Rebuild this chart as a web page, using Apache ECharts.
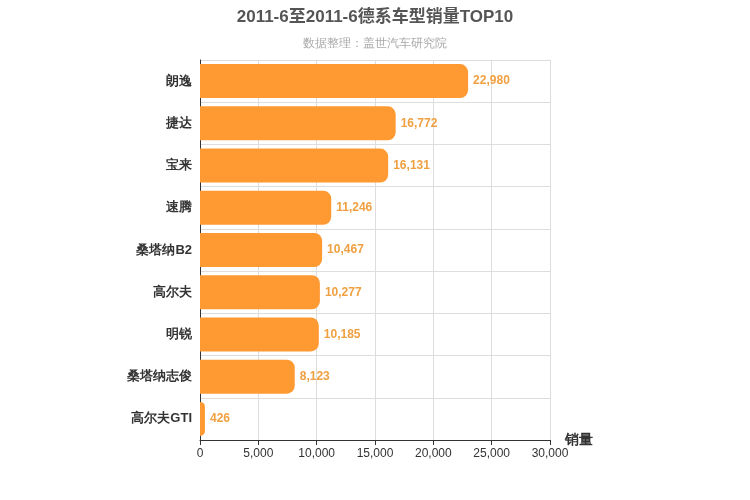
<!DOCTYPE html>
<html><head><meta charset="utf-8">
<script src="https://cdn.jsdelivr.net/npm/echarts@6/dist/echarts.min.js"></script>
<style>html,body{margin:0;padding:0;}#c{width:750px;height:500px;}</style>
</head><body><div id="c"></div>
<script>
const categories = ['朗逸','捷达','宝来','速腾','桑塔纳B2','高尔夫','明锐','桑塔纳志俊','高尔夫GTI'];
const sales = [22980,16772,16131,11246,10467,10277,10185,8123,426];
const xTicks = {min:0,max:30000,interval:5000};
const chart = echarts.init(document.getElementById('c'));
chart.setOption({
  animation:false,
  title:{text:'2011-6至2011-6德系车型销量TOP10',subtext:'数据整理：盖世汽车研究院',left:'center',top:4,
    textStyle:{fontSize:17,fontWeight:'bold',color:'#555',fontFamily:'Liberation Sans, Noto Sans CJK SC'},
    subtextStyle:{fontSize:12,color:'#aaa'},itemGap:12},
  grid:{left:200,right:200,top:60,bottom:60},
  xAxis:{type:'value',min:xTicks.min,max:xTicks.max,interval:xTicks.interval,
    name:'销量',nameLocation:'end',nameGap:15,
    nameTextStyle:{fontSize:14,fontWeight:'bold',color:'#333',verticalAlign:'middle',padding:[0,0,0,0]},
    axisLine:{show:true,lineStyle:{color:'#333'}},axisTick:{show:true},
    axisLabel:{color:'#333',fontSize:12,formatter:v=>v.toLocaleString('en-US')},
    splitLine:{lineStyle:{color:'#ddd'}}},
  yAxis:{type:'category',data:categories,inverse:true,
    axisLine:{lineStyle:{color:'#333'}},axisTick:{show:false},
    axisLabel:{fontSize:13,fontWeight:'bold',color:'#333'},
    splitLine:{show:true,lineStyle:{color:'#ddd'}}},
  series:[{type:'bar',data:sales,barWidth:34,
    itemStyle:{color:'#ff9a33',borderRadius:[0,8,8,0]},
    label:{show:true,position:'right',color:'#f0a040',fontWeight:'bold',fontSize:12,
      formatter:p=>p.value.toLocaleString('en-US')}}]
});
</script></body></html>
